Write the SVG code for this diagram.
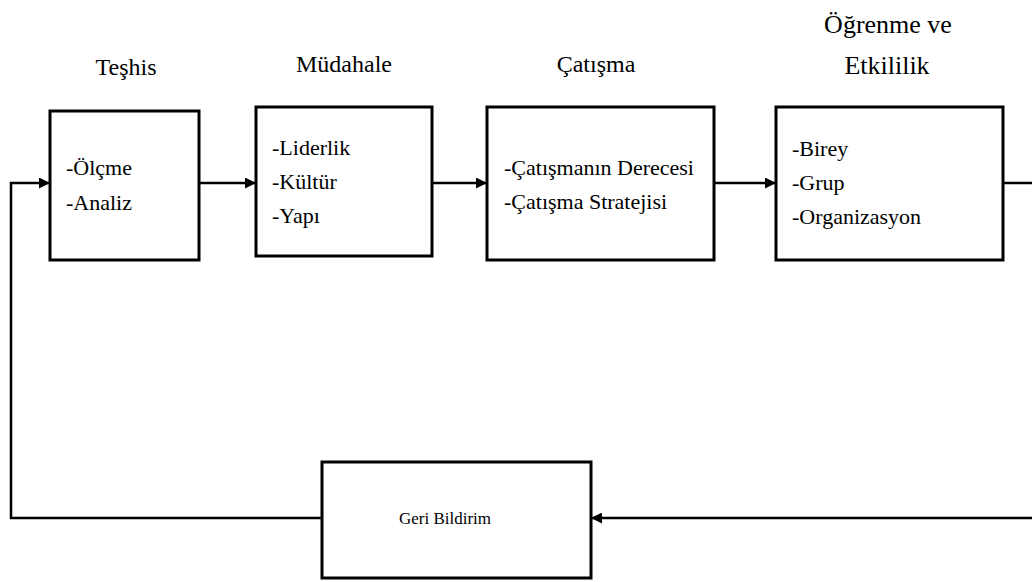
<svg xmlns="http://www.w3.org/2000/svg" width="1032" height="582" viewBox="0 0 1032 582">
<defs>
<marker id="ah" viewBox="0 0 10 10" refX="10" refY="5" markerWidth="11" markerHeight="11" markerUnits="userSpaceOnUse" orient="auto">
<path d="M0,0 L10,5 L0,10 Z" fill="#000"/>
</marker>
<style>
.box{fill:#fff;stroke:#000;stroke-width:3}
.ln{fill:none;stroke:#000;stroke-width:2.5}
text{font-family:'Liberation Serif',serif;fill:#000}
.title{font-size:24px}
.item{font-size:22px}
</style>
</defs>
<rect width="1032" height="582" fill="#fff"/>
<g id="connectors">
<line class="ln" x1="199" y1="183" x2="256" y2="183" marker-end="url(#ah)"/>
<line class="ln" x1="432" y1="183" x2="487" y2="183" marker-end="url(#ah)"/>
<line class="ln" x1="714" y1="183" x2="776" y2="183" marker-end="url(#ah)"/>
<polyline class="ln" points="1003,183 1034,183 1034,518 591,518" marker-end="url(#ah)"/>
<polyline class="ln" points="322,518 11,518 11,183 50,183" marker-end="url(#ah)"/>
</g>
<g id="teshis" font-family="Liberation Serif, serif">
<text class="title" x="126" y="75" text-anchor="middle">Teşhis</text>
<rect class="box" x="50" y="111" width="149" height="149"/>
<text class="item" x="66" y="175">-Ölçme</text>
<text class="item" x="66" y="210">-Analiz</text>
</g>
<g id="mudahale" font-family="Liberation Serif, serif">
<text class="title" x="344" y="72" text-anchor="middle">Müdahale</text>
<rect class="box" x="256" y="107" width="176" height="149"/>
<text class="item" x="272" y="155">-Liderlik</text>
<text class="item" x="272" y="189">-Kültür</text>
<text class="item" x="272" y="223">-Yapı</text>
</g>
<g id="catisma" font-family="Liberation Serif, serif">
<text class="title" x="596" y="72" text-anchor="middle">Çatışma</text>
<rect class="box" x="487" y="107" width="227" height="153"/>
<text class="item" x="504" y="175">-Çatışmanın Derecesi</text>
<text class="item" x="504" y="209">-Çatışma Stratejisi</text>
</g>
<g id="ogrenme" font-family="Liberation Serif, serif">
<text x="888" y="33" text-anchor="middle" font-size="26">Öğrenme ve</text>
<text x="887" y="74" text-anchor="middle" font-size="26">Etkililik</text>
<rect class="box" x="776" y="107" width="227" height="153"/>
<text class="item" x="792" y="156">-Birey</text>
<text class="item" x="792" y="190">-Grup</text>
<text class="item" x="792" y="224">-Organizasyon</text>
</g>
<g id="geri-bildirim" font-family="Liberation Serif, serif">
<rect class="box" x="322" y="462" width="269" height="116"/>
<text font-size="17" x="445" y="524" text-anchor="middle">Geri Bildirim</text>
</g>
</svg>
